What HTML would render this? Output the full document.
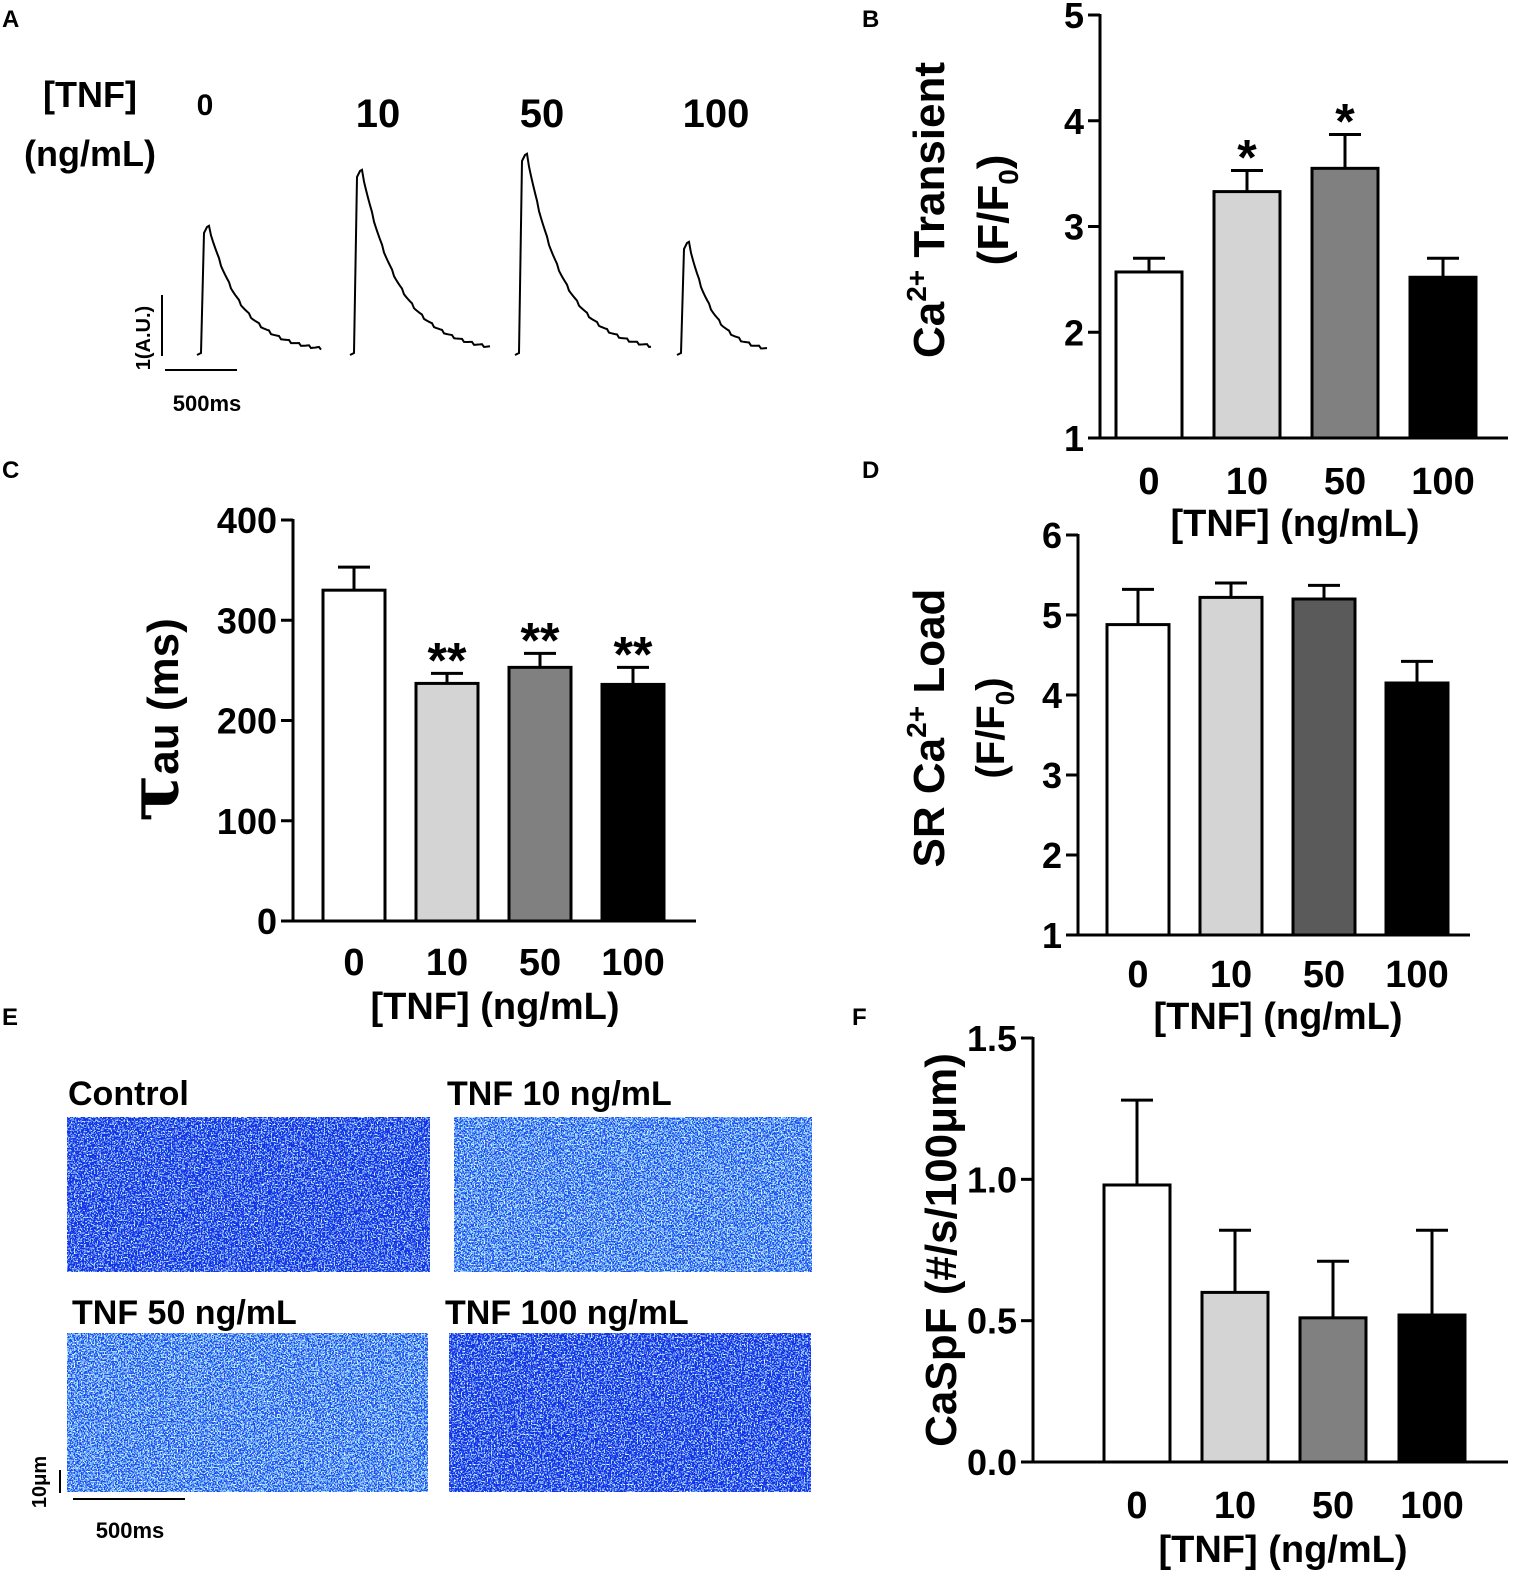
<!DOCTYPE html>
<html><head><meta charset="utf-8"><style>
body{margin:0;background:#fff}
svg{display:block;font-family:"Liberation Sans",sans-serif;font-weight:bold}
</style></head><body>
<svg id="fig" width="1535" height="1593" viewBox="0 0 1535 1593" xmlns="http://www.w3.org/2000/svg">
<defs>
<filter id="noiseDark" x="0" y="0" width="100%" height="100%">
<feTurbulence type="fractalNoise" baseFrequency="0.7" numOctaves="1" seed="3" result="t"/>
<feColorMatrix in="t" type="matrix" values="0 0 0 0 0.3  0 0 0 0 0.8  0 0 0 0 1  12 0 0 0 -6.6" result="c"/>
<feColorMatrix in="t" type="matrix" values="0 0 0 0 1  0 0 0 0 1  0 0 0 0 1  0 14 0 0 -8.8" result="w"/>
<feFlood flood-color="#1232e6" result="bg"/>
<feMerge><feMergeNode in="bg"/><feMergeNode in="c"/><feMergeNode in="w"/></feMerge>
</filter>
<filter id="noiseLight" x="0" y="0" width="100%" height="100%">
<feTurbulence type="fractalNoise" baseFrequency="0.7" numOctaves="1" seed="7" result="t"/>
<feColorMatrix in="t" type="matrix" values="0 0 0 0 0.3  0 0 0 0 0.85  0 0 0 0 1  10 0 0 0 -5.0" result="c"/>
<feColorMatrix in="t" type="matrix" values="0 0 0 0 1  0 0 0 0 1  0 0 0 0 1  0 12 0 0 -7.2" result="w"/>
<feFlood flood-color="#1a48ee" result="bg"/>
<feMerge><feMergeNode in="bg"/><feMergeNode in="c"/><feMergeNode in="w"/></feMerge>
</filter>
</defs>
<g id="root"></g>
</svg>
<script>
// ---- data ----
const categories = ["0","10","50","100"];
const traceAmps = [1.6, 2.3, 2.5, 1.4];
const bMeans = [2.57, 3.33, 3.55, 2.52];
const bErrs = [0.13, 0.20, 0.32, 0.18];
const bStars = ["", "*", "*", ""];
const bTicks = [1,2,3,4,5];
const cMeans = [330, 237, 253, 236];
const cErrs = [23, 10, 14, 17];
const cStars = ["", "**", "**", "**"];
const cTicks = [0,100,200,300,400];
const dMeans = [4.88, 5.22, 5.20, 4.15];
const dErrs = [0.44, 0.18, 0.17, 0.27];
const dTicks = [1,2,3,4,5,6];
const fMeans = [0.98, 0.60, 0.51, 0.52];
const fErrs = [0.30, 0.22, 0.20, 0.30];
const fTicks = ["0.0","0.5","1.0","1.5"];

const NS = "http://www.w3.org/2000/svg";
const root = document.getElementById("root");
function el(tag, attrs, parent, text){
  const e = document.createElementNS(NS, tag);
  for (const k in attrs) e.setAttribute(k, attrs[k]);
  if (text !== undefined) e.textContent = text;
  (parent || root).appendChild(e);
  return e;
}
function txt(x,y,s,size,anchor,parent,rot){
  const a = {x:x,y:y,"font-size":size,"text-anchor":anchor||"middle"};
  if (rot) a.transform = "rotate(-90 "+x+" "+y+")";
  return el("text", a, parent, s);
}

[["A",2,27],["B",862,27],["C",2,478],["D",862,478],["E",2,1025],["F",852,1025]].forEach(p=>{
  const t = txt(p[1],p[2],p[0],24,"start");
  
  
});

// ---- Panel A traces ----
const gA = el("g", {});


txt(90,107,"[TNF]",36,"middle",gA);
txt(90,166,"(ng/mL)",36,"middle",gA);
const traceX = [197, 350, 515, 677];
const traceW = [125, 140, 137, 90];
const labX = [205, 378, 542, 716];
const ampPx = 80;
const base = 355;
categories.forEach((c,i)=>{
  const l = txt(labX[i], i===0?115:127, c, i===0?30:40, "middle", gA);
  
  
  const x0 = traceX[i], w = traceW[i], A = traceAmps[i]*ampPx;
  let d = "M"+x0+" "+base+" L"+(x0+4)+" "+(base-2)+" L"+(x0+7)+" "+(base-A+6)+" L"+(x0+10)+" "+(base-A);
  const tau = w*0.27;
  for (let t=0; t<=w-12; t+=2){
    const y = base - 2 - (A-2)*Math.exp(-t/tau) + ((t*7)%5-2)*0.6;
    d += " L"+(x0+12+t).toFixed(1)+" "+y.toFixed(1);
  }
  const p = el("path", {d:d, fill:"none", stroke:"#000", "stroke-width":2}, gA);
  
  
});
el("line",{x1:162,y1:295,x2:162,y2:356,stroke:"#000","stroke-width":2},gA);
el("line",{x1:165,y1:370,x2:237,y2:370,stroke:"#000","stroke-width":2},gA);
txt(207,411,"500ms",22,"middle",gA);
el("text",{x:150,y:338,"font-size":20,"text-anchor":"middle",transform:"rotate(-90 150 338)"},gA,"1(A.U.)");

const fills = ["#fff","#d4d4d4","#808080","#000"];
function barChart(o){
  const g = el("g", {});
  
  
  const yS = v => o.y0 - (v - o.vmin) * (o.y0 - o.y1) / (o.vmax - o.vmin);
  o.means.forEach((m,i)=>{
    const cx = o.xc[i];
    const top = yS(m), et = yS(m + o.errs[i]);
    const eb = el("line",{x1:cx,y1:top,x2:cx,y2:et,stroke:"#000","stroke-width":3},g);
    
    
    el("line",{x1:cx-16,y1:et,x2:cx+16,y2:et,stroke:"#000","stroke-width":3},g);
    const r = el("rect",{x:cx-o.bw/2,y:top,width:o.bw,height:o.y0-top,fill:(o.fills||fills)[i],stroke:"#000","stroke-width":3},g);
    
    
    if (o.stars && o.stars[i]){
      const s = txt(cx, et+4, o.stars[i], 50, "middle", g);
      
      
    }
    const xl = txt(cx, o.y0+o.xlDy, categories[i], 38, "middle", g);
    
    
  });
  const ya = el("line",{x1:o.ax,y1:o.y1-1,x2:o.ax,y2:o.y0+1.5,stroke:"#000","stroke-width":3},g);
  
  
  const xa = el("line",{x1:o.ax-1.5,y1:o.y0,x2:o.xend,y2:o.y0,stroke:"#000","stroke-width":3},g);
  
  
  o.ticks.forEach(t=>{
    const y = yS(parseFloat(t));
    el("line",{x1:o.ax-12,y1:y,x2:o.ax,y2:y,stroke:"#000","stroke-width":3},g);
    const tl = txt(o.ax-16, y+13, String(t), 36, "end", g);
    
    
  });
  const xt = txt(o.xtX, o.y0+o.xtDy, "[TNF] (ng/mL)", 38, "middle", g);
  
  
  return g;
}

const gB = barChart({name:"panel-b-chart",means:bMeans,errs:bErrs,stars:bStars,vmin:1,vmax:5,y0:438,y1:15,ax:1100,xend:1508,
  xc:[1149,1247,1345,1443],bw:66,ticks:bTicks,xlDy:56,xtX:1295,xtDy:98});
let t1 = el("text",{x:944,y:210,"font-size":44,"text-anchor":"middle",transform:"rotate(-90 944 210)"},gB);


el("tspan",{},t1,"Ca");el("tspan",{"font-size":28,dy:-18},t1,"2+");el("tspan",{dy:18},t1," Transient");
let t2 = el("text",{x:1008,y:210,"font-size":44,"text-anchor":"middle",transform:"rotate(-90 1008 210)"},gB);
el("tspan",{},t2,"(F/F");el("tspan",{"font-size":28,dy:10},t2,"0");el("tspan",{dy:-10},t2,")");

const gC = barChart({name:"panel-c-chart",means:cMeans,errs:cErrs,stars:cStars,vmin:0,vmax:400,y0:921,y1:520,ax:293,xend:696,
  xc:[354,447,540,633],bw:62,ticks:cTicks,xlDy:54,xtX:495,xtDy:98});
let t3 = el("text",{x:178,y:720,"font-size":44,"text-anchor":"middle",transform:"rotate(-90 178 720)"},gC);


el("tspan",{"font-size":70,"font-family":"DejaVu Serif, serif"},t3,"τ");el("tspan",{},t3,"au (ms)");

const gD = barChart({name:"panel-d-chart",means:dMeans,errs:dErrs,vmin:1,vmax:6,y0:935,y1:535,ax:1078,xend:1470,
  xc:[1138,1231,1324,1417],bw:62,ticks:dTicks,xlDy:52,xtX:1278,xtDy:94,fills:["#fff","#d4d4d4","#5a5a5a","#000"]});
let t4 = el("text",{x:944,y:728,"font-size":44,"text-anchor":"middle",transform:"rotate(-90 944 728)"},gD);


el("tspan",{},t4,"SR  Ca");el("tspan",{"font-size":28,dy:-18},t4,"2+");el("tspan",{dy:18},t4," Load");
let t5 = el("text",{x:1004,y:728,"font-size":40,"text-anchor":"middle",transform:"rotate(-90 1004 728)"},gD);
el("tspan",{},t5,"(F/F");el("tspan",{"font-size":26,dy:10},t5,"0");el("tspan",{dy:-10},t5,")");

const gF = barChart({name:"panel-f-chart",means:fMeans,errs:fErrs,vmin:0,vmax:1.5,y0:1462,y1:1038,ax:1033,xend:1508,
  xc:[1137,1235,1333,1432],bw:66,ticks:fTicks,xlDy:56,xtX:1283,xtDy:100});
let t6 = txt(956,1250,"CaSpF (#/s/100μm)",44,"middle",gF,true);



const gE = el("g", {});


const imgs = [["Control",67,1117,363,155,"noiseDark",68,1105],["TNF 10 ng/mL",454,1117,358,155,"noiseLight",447,1105],
  ["TNF 50 ng/mL",67,1333,361,159,"noiseLight",72,1324],["TNF 100 ng/mL",449,1333,362,159,"noiseDark",445,1324]];
imgs.forEach(m=>{
  const r = el("rect",{x:m[1],y:m[2],width:m[3],height:m[4],fill:"#1c3ee6",filter:"url(#"+m[5]+")"},gE);
  
  
  const l = txt(m[6], m[7], m[0], 34, "start", gE);
  
  
});
el("line",{x1:60,y1:1470,x2:60,y2:1493,stroke:"#000","stroke-width":2},gE);
el("line",{x1:73,y1:1499,x2:185,y2:1499,stroke:"#000","stroke-width":2},gE);
txt(130,1538,"500ms",22,"middle",gE);
el("text",{x:46,y:1482,"font-size":20,"text-anchor":"middle",transform:"rotate(-90 46 1482)"},gE,"10μm");
</script>
</body></html>
